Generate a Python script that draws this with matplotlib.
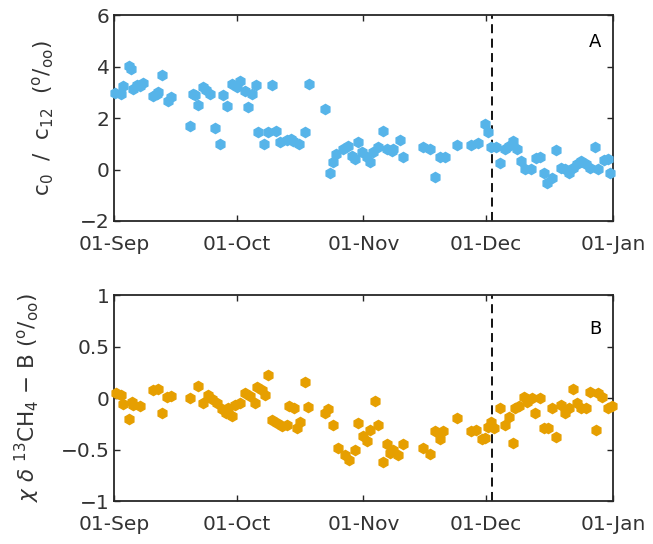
import datetime as dt
import matplotlib
matplotlib.use("Agg")
import matplotlib.pyplot as plt
import matplotlib.dates as mdates

# days after 01-Sep and the values
top_days = [0.3, 1.6, 2.3, 3.7, 4.1, 4.7, 5.6, 6.4, 7.0, 9.6, 10.4, 10.8, 11.7, 13.3, 13.9,
            18.6, 19.2, 19.8, 20.6, 21.8, 22.6, 23.5, 24.7, 25.8, 26.7, 27.7, 28.8, 30.0,
            30.8, 32.0, 32.8, 33.7, 34.7, 35.3, 36.7, 37.7, 38.6, 39.6, 40.6, 42.2, 43.4,
            43.8, 45.3, 46.7, 47.8, 51.6, 52.8, 53.5, 54.4, 56.1, 57.3, 58.1, 58.9, 59.7,
            60.6, 61.8, 62.6, 63.4, 64.6, 65.7, 66.7, 67.9, 68.3, 69.9, 70.7, 75.6, 77.3,
            78.5, 79.7, 80.9, 83.8, 87.4, 89.1, 90.7, 91.5, 92.3, 93.5, 94.5, 95.5, 96.5,
            97.5, 98.6, 99.6, 100.6, 101.9, 103.2, 104.2, 105.2, 106.0, 107.2, 108.2, 109.2,
            110.2, 111.2, 112.3, 113.3, 114.3, 115.4, 116.4, 117.6, 118.4, 119.9, 120.9, 121.4]
top_vals = [2.98, 2.94, 3.24, 4.04, 3.91, 3.13, 3.30, 3.26, 3.39, 2.87, 2.95, 3.03, 3.68, 2.68, 2.81,
            1.71, 2.94, 2.90, 2.51, 3.20, 3.10, 2.94, 1.60, 1.00, 2.90, 2.49, 3.33, 3.20,
            3.46, 3.07, 2.42, 2.94, 3.29, 1.45, 1.00, 1.45, 3.29, 1.51, 1.06, 1.16, 1.19,
            1.13, 1.00, 1.45, 3.33, 2.36, -0.13, 0.28, 0.61, 0.80, 0.93, 0.54, 0.42, 1.06,
            0.67, 0.48, 0.28, 0.67, 0.87, 1.51, 0.80, 0.74, 0.80, 1.16, 0.48, 0.87, 0.80,
            -0.30, 0.48, 0.48, 0.96, 0.96, 1.02, 1.77, 1.45, 0.87, 0.86, 0.27, 0.79, 0.92,
            1.12, 0.79, 0.34, 0.01, 0.01, 0.47, 0.49, -0.12, -0.51, -0.31, 0.75, 0.08,
            0.01, -0.12, 0.08, 0.21, 0.34, 0.21, 0.08, 0.86, 0.01, 0.36, 0.40, -0.12]

bot_days = [0.5, 1.6, 2.3, 3.7, 4.3, 4.7, 6.4, 9.6, 10.8, 11.7, 12.9, 13.9, 18.6, 20.6, 21.8,
            23.0, 23.9, 25.1, 26.3, 27.4, 27.9, 28.8, 29.6, 30.8, 32.0, 33.3, 34.5, 34.9,
            36.1, 36.9, 37.7, 38.6, 39.8, 41.0, 42.2, 42.8, 43.9, 44.8, 45.5, 46.7, 47.5,
            51.6, 52.4, 53.6, 54.8, 56.5, 57.5, 58.9, 59.7, 61.0, 61.8, 62.6, 63.8, 64.6,
            65.7, 66.7, 67.5, 68.3, 69.5, 70.7, 75.6, 77.3, 78.5, 79.7, 80.5, 83.8, 87.4,
            88.6, 89.9, 90.7, 91.5, 92.3, 93.0, 94.5, 95.5, 96.5, 97.6, 98.1, 99.1, 100.3,
            101.1, 102.1, 102.9, 104.2, 105.2, 106.2, 107.2, 108.2, 109.2, 110.2, 111.2,
            112.3, 113.3, 114.3, 115.4, 116.4, 117.9, 118.4, 119.4, 120.9, 121.9]
bot_vals = [0.05, 0.03, -0.06, -0.20, -0.04, -0.07, -0.08, 0.08, 0.09, -0.15, 0.01, 0.02, 0.00, 0.12, -0.05,
            0.03, -0.01, -0.05, -0.11, -0.15, -0.10, -0.17, -0.07, -0.05, 0.05, 0.02, -0.05, 0.11,
            0.08, 0.03, 0.22, -0.21, -0.24, -0.27, -0.26, -0.08, -0.10, -0.29, -0.23, 0.16, -0.09,
            -0.15, -0.11, -0.26, -0.49, -0.55, -0.60, -0.50, -0.24, -0.37, -0.42, -0.31, -0.03, -0.26,
            -0.62, -0.45, -0.53, -0.50, -0.55, -0.45, -0.49, -0.54, -0.32, -0.40, -0.32, -0.19, -0.32,
            -0.31, -0.40, -0.39, -0.28, -0.23, -0.29, -0.10, -0.26, -0.18, -0.44, -0.10, -0.08, 0.01,
            -0.04, 0.00, -0.15, 0.00, -0.29, -0.29, -0.10, -0.38, -0.07, -0.15, -0.10,
            0.09, -0.05, -0.10, -0.10, 0.06, -0.31, 0.05, 0.01, -0.10, -0.08]

start = dt.datetime(2015, 9, 1)
end = dt.datetime(2016, 1, 1)
marker_day = 92.5  # dashed line, early December
tick_dates = [dt.datetime(2015, m, 1) for m in (9, 10, 11, 12)] + [end]

plt.rcParams['font.family'] = ['DejaVu Sans']
plt.rcParams['mathtext.fontset'] = 'dejavusans'
frame = '#262626'
MINUS = '\u2212'

fig = plt.figure(figsize=(6.53, 5.44), dpi=100)
ax1 = fig.add_axes([0.1746, 0.5938, 0.764, 0.3778])
ax2 = fig.add_axes([0.1746, 0.0790, 0.764, 0.3787])


def to_dates(days):
    return [start + dt.timedelta(days=d) for d in days]


panels = [
    (ax1, top_days, top_vals, '#56B4E9', (-2, 6), [-2, 0, 2, 4, 6],
     [MINUS + '2', '0', '2', '4', '6'],
     r'c$_0$  /  c$_{12}$  ($^{\rm o}$/$_{\rm oo}$)', 'A', 0.87, 17),
    (ax2, bot_days, bot_vals, '#E69F00', (-1, 1), [-1, -0.5, 0, 0.5, 1],
     [MINUS + '1', MINUS + '0.5', '0', '0.5', '1'],
     r'$\chi$ $\delta$ $^{13}$CH$_4$ ' + MINUS + r' B ($^{\rm o}$/$_{\rm oo}$)', 'B', 0.835, 14),
]

for ax, days, vals, col, ylim, yt, ytl, ylab, letter, ly, lpad in panels:
    ax.plot(to_dates(days), vals, linestyle='none', marker='h', markersize=7.3,
            color=col, markeredgecolor=col, clip_on=False, zorder=3)
    ax.axvline(start + dt.timedelta(days=marker_day), color='k', linestyle=(0, (5, 3)), linewidth=1.3)
    ax.set_xlim(start, end)
    ax.set_ylim(*ylim)
    ax.set_xticks(tick_dates)
    ax.xaxis.set_major_formatter(mdates.DateFormatter('%d-%b'))
    ax.set_yticks(yt)
    ax.set_yticklabels(ytl)
    ax.tick_params(direction='in', length=4, width=1, top=True, right=True,
                   labelsize=14.5, colors=frame, labelcolor='#333333')
    ax.tick_params(axis='x', pad=10)
    ax.tick_params(axis='y', pad=3)
    for s in ax.spines.values():
        s.set_color(frame)
        s.set_linewidth(1.3)
    ax.set_ylabel(ylab, fontsize=15.5, color='#333333', labelpad=lpad)
    ax.text(0.965, ly, letter, transform=ax.transAxes, ha='center', va='center',
            fontsize=13, color='black')

fig.savefig('out.png', dpi=100)
